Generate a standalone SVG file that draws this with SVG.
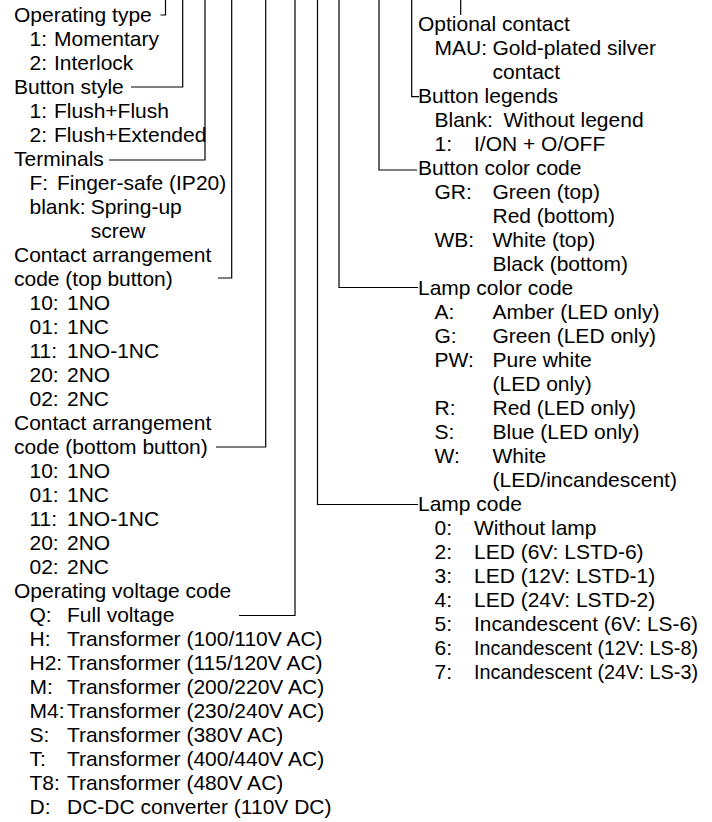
<svg xmlns="http://www.w3.org/2000/svg" width="712" height="822" viewBox="0 0 712 822">
<style>
text{font-family:"Liberation Sans",Arial,Helvetica,sans-serif;font-size:21px;fill:#000}
.c path{fill:none;stroke:#000;stroke-width:1.2}
</style>
<rect width="712" height="822" fill="#fff"/>
<g class="c" id="connectors">
<path d="M160.5,15 H165.5 V0"/>
<path d="M131,87 H182.7 V0"/>
<path d="M109,160 H205 V0"/>
<path d="M218,278 H231.7 V0"/>
<path d="M216,447 H265.7 V0"/>
<path d="M239,615.5 H295 V0"/>
<path d="M418,504.5 H317.5 V0"/>
<path d="M418,287.5 H339 V0"/>
<path d="M417,170 H379 V0"/>
<path d="M419,96.7 H411.7 V0"/>
<path d="M460.7,0 V15"/>
</g>
<g id="operating-type">
<text x="14" y="22">Operating type</text>
<text x="29.5" y="46">1:</text><text x="54" y="46">Momentary</text>
<text x="29.5" y="70">2:</text><text x="54" y="70">Interlock</text>
</g>
<g id="button-style">
<text x="14" y="94">Button style</text>
<text x="29.5" y="118">1:</text><text x="54" y="118">Flush+Flush</text>
<text x="29.5" y="142">2:</text><text x="54" y="142">Flush+Extended</text>
</g>
<g id="terminals">
<text x="14" y="166">Terminals</text>
<text x="29.5" y="190">F:</text><text x="57" y="190">Finger-safe (IP20)</text>
<text x="29.5" y="214">blank:</text><text x="90.7" y="214">Spring-up</text>
<text x="90.7" y="238">screw</text>
</g>
<g id="contact-top">
<text x="14" y="262">Contact arrangement</text>
<text x="14" y="286">code (top button)</text>
<text x="29.5" y="310">10:</text><text x="67" y="310">1NO</text>
<text x="29.5" y="334">01:</text><text x="67" y="334">1NC</text>
<text x="29.5" y="358">11:</text><text x="67" y="358">1NO-1NC</text>
<text x="29.5" y="382">20:</text><text x="67" y="382">2NO</text>
<text x="29.5" y="406">02:</text><text x="67" y="406">2NC</text>
</g>
<g id="contact-bottom">
<text x="14" y="430">Contact arrangement</text>
<text x="14" y="454">code (bottom button)</text>
<text x="29.5" y="478">10:</text><text x="67" y="478">1NO</text>
<text x="29.5" y="502">01:</text><text x="67" y="502">1NC</text>
<text x="29.5" y="526">11:</text><text x="67" y="526">1NO-1NC</text>
<text x="29.5" y="550">20:</text><text x="67" y="550">2NO</text>
<text x="29.5" y="574">02:</text><text x="67" y="574">2NC</text>
</g>
<g id="operating-voltage">
<text x="14" y="598">Operating voltage code</text>
<text x="29.5" y="622">Q:</text><text x="67" y="622">Full voltage</text>
<text x="29.5" y="646">H:</text><text x="67" y="646">Transformer (100/110V AC)</text>
<text x="29.5" y="670">H2:</text><text x="67" y="670">Transformer (115/120V AC)</text>
<text x="29.5" y="694">M:</text><text x="67" y="694">Transformer (200/220V AC)</text>
<text x="29.5" y="718">M4:</text><text x="67" y="718">Transformer (230/240V AC)</text>
<text x="29.5" y="742">S:</text><text x="67" y="742">Transformer (380V AC)</text>
<text x="29.5" y="766">T:</text><text x="67" y="766">Transformer (400/440V AC)</text>
<text x="29.5" y="790">T8:</text><text x="67" y="790">Transformer (480V AC)</text>
<text x="29.5" y="814">D:</text><text x="67" y="814">DC-DC converter (110V DC)</text>
</g>
<g id="optional-contact">
<text x="418" y="31">Optional contact</text>
<text x="434.5" y="55">MAU:</text><text x="492.5" y="55">Gold-plated silver</text>
<text x="492.5" y="79">contact</text>
</g>
<g id="button-legends">
<text x="418" y="103">Button legends</text>
<text x="434.5" y="127">Blank:</text><text x="503.5" y="127">Without legend</text>
<text x="434.5" y="151">1:</text><text x="474" y="151">I/ON + O/OFF</text>
</g>
<g id="button-color">
<text x="418" y="175">Button color code</text>
<text x="434.5" y="199">GR:</text><text x="492.5" y="199">Green (top)</text>
<text x="492.5" y="223">Red (bottom)</text>
<text x="434.5" y="247">WB:</text><text x="492.5" y="247">White (top)</text>
<text x="492.5" y="271">Black (bottom)</text>
</g>
<g id="lamp-color">
<text x="418" y="295">Lamp color code</text>
<text x="434.5" y="319">A:</text><text x="492.5" y="319">Amber (LED only)</text>
<text x="434.5" y="343">G:</text><text x="492.5" y="343">Green (LED only)</text>
<text x="434.5" y="367">PW:</text><text x="492.5" y="367">Pure white</text>
<text x="492.5" y="391">(LED only)</text>
<text x="434.5" y="415">R:</text><text x="492.5" y="415">Red (LED only)</text>
<text x="434.5" y="439">S:</text><text x="492.5" y="439">Blue (LED only)</text>
<text x="434.5" y="463">W:</text><text x="492.5" y="463">White</text>
<text x="492.5" y="487">(LED/incandescent)</text>
</g>
<g id="lamp-code">
<text x="418" y="511">Lamp code</text>
<text x="434.5" y="535">0:</text><text x="474" y="535">Without lamp</text>
<text x="434.5" y="559">2:</text><text x="474" y="559">LED (6V: LSTD-6)</text>
<text x="434.5" y="583">3:</text><text x="474" y="583">LED (12V: LSTD-1)</text>
<text x="434.5" y="607">4:</text><text x="474" y="607">LED (24V: LSTD-2)</text>
<text x="434.5" y="631">5:</text><text x="474" y="631" textLength="224" lengthAdjust="spacingAndGlyphs">Incandescent (6V: LS-6)</text>
<text x="434.5" y="655">6:</text><text x="474" y="655" textLength="224" lengthAdjust="spacingAndGlyphs">Incandescent (12V: LS-8)</text>
<text x="434.5" y="679">7:</text><text x="474" y="679" textLength="224" lengthAdjust="spacingAndGlyphs">Incandescent (24V: LS-3)</text>
</g>
</svg>
